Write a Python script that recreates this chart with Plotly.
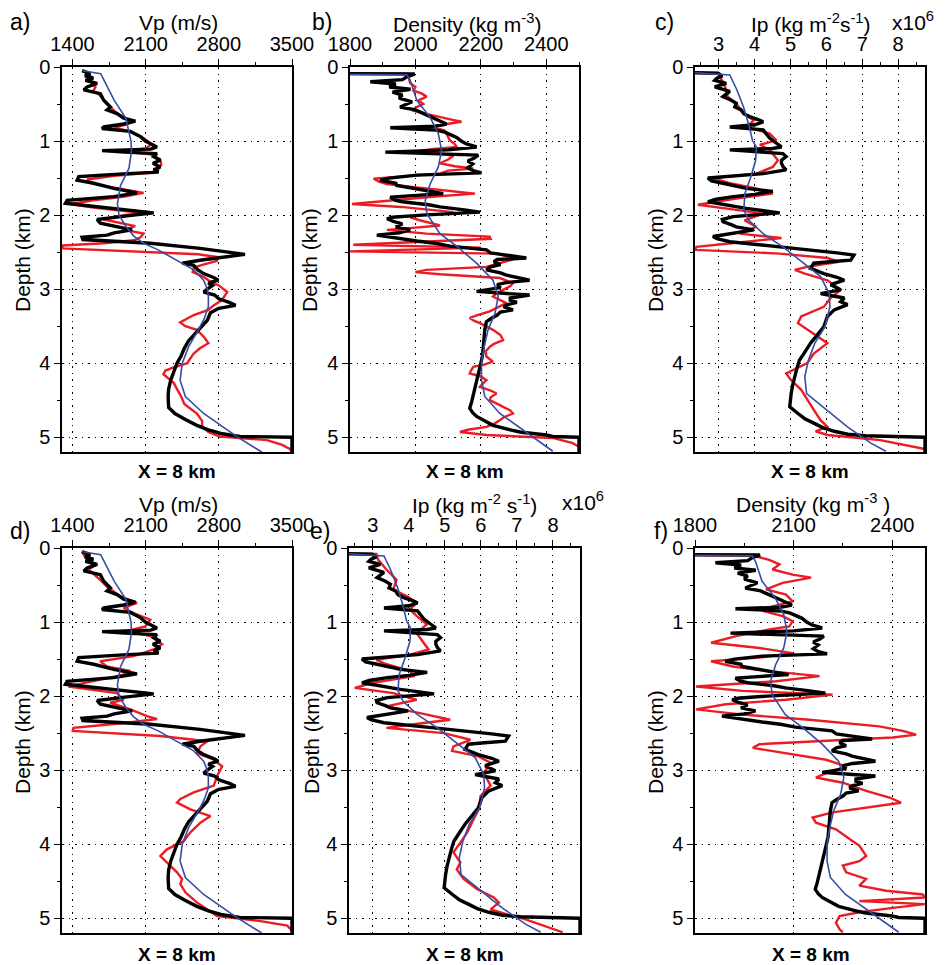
import plotly.graph_objects as go

W, H = 946, 965

# ---------------- DATA (depth km, value) ----------------
vp_black = [(0.05,1492),(0.09,1570),(0.12,1520),(0.15,1600),(0.18,1524),(0.22,1636),(0.27,1540),(0.31,1508),
            (0.36,1667),(0.45,1699),(0.54,1763),(0.58,1731),(0.63,1826),(0.69,1890),(0.73,2002),(0.77,1890),
            (0.81,1700),(0.83,1683),(0.87,1954),(0.94,2049),(1.0,2097),(1.08,2208),(1.11,2150),(1.13,1683),
            (1.15,1900),(1.17,2208),(1.21,2177),(1.26,2240),(1.3,2170),(1.35,2240),(1.39,2177),(1.42,2224),
            (1.44,1922),(1.48,1460),(1.53,1445),(1.57,1604),(1.64,1795),(1.7,2017),(1.75,1795),(1.8,1349),
            (1.84,1333),(1.89,1667),(1.93,1922),(1.97,2177),(2.01,1922),(2.06,1636),(2.11,1667),(2.16,1858),
            (2.2,1970),(2.24,1800),(2.27,1731),(2.3,1492),(2.33,1500),(2.38,2145),(2.45,2620),(2.53,3050),
            (2.57,2800),(2.61,2620),(2.65,2450),(2.68,2560),(2.74,2600),(2.79,2655),(2.85,2760),(2.88,2795),
            (2.92,2700),(2.95,2740),(3.0,2690),(3.04,2655),(3.08,2760),(3.13,2800),(3.18,2900),(3.22,2960),
            (3.26,2800),(3.32,2720),(3.42,2690),(3.5,2640),(3.6,2570),(3.7,2510),(3.8,2470),(3.9,2440),
            (4.0,2400),(4.12,2370),(4.23,2340),(4.35,2320),(4.45,2315),(4.6,2320),(4.68,2380),(4.76,2480),
            (4.84,2590),(4.9,2700),(4.95,2820),(4.99,3000),(5.0,3500),(5.2,3500)]

vp_blue = [(0.05,1495),(0.09,1670),(0.2,1710),(0.45,1800),(0.69,1910),(1.0,1960),(1.14,1965),(1.37,1940),
           (1.6,1860),(1.85,1830),(2.0,1845),(2.15,1910),(2.28,1985),(2.38,2080),(2.47,2220),(2.56,2330),
           (2.65,2450),(2.74,2560),(2.88,2655),(3.0,2690),(3.1,2700),(3.24,2700),(3.4,2660),(3.55,2605),
           (3.78,2510),(4.0,2450),(4.23,2430),(4.45,2480),(4.68,2655),(4.9,2880),(5.0,2980),(5.2,3210)]

vp_red_a = [(0.05,1495),(0.1,1560),(0.15,1590),(0.2,1570),(0.27,1620),(0.32,1600),(0.38,1660),(0.45,1700),
            (0.54,1760),(0.63,1830),(0.7,1920),(0.73,1990),(0.78,1900),(0.82,1800),(0.87,1950),(0.94,2060),
            (1.0,2120),(1.05,2150),(1.1,2100),(1.14,1860),(1.18,2150),(1.25,2240),(1.32,2250),(1.38,2220),
            (1.43,2150),(1.47,1800),(1.52,1540),(1.58,1600),(1.64,1850),(1.7,2080),(1.75,1900),(1.8,1600),
            (1.85,1380),(1.9,1600),(1.97,2050),(2.02,1800),(2.06,1700),(2.11,1850),(2.15,2000),(2.2,1900),
            (2.25,2080),(2.3,2050),(2.34,1990),(2.38,1700),(2.41,1310),(2.45,1300),(2.49,1900),(2.53,2600),
            (2.57,2800),(2.62,2780),(2.67,2650),(2.71,2560),(2.77,2550),(2.83,2650),(2.88,2700),(2.95,2800),
            (3.04,2880),(3.1,2850),(3.15,2830),(3.22,2750),(3.28,2700),(3.35,2560),(3.4,2500),(3.45,2430),
            (3.5,2480),(3.55,2590),(3.65,2660),(3.73,2700),(3.8,2620),(3.87,2560),(3.95,2520),(4.0,2500),
            (4.06,2360),(4.1,2290),(4.15,2270),(4.2,2310),(4.27,2370),(4.35,2400),(4.45,2440),(4.55,2470),
            (4.68,2590),(4.78,2640),(4.85,2640),(4.93,2700),(4.99,2810),(5.04,3260),(5.1,3400),(5.16,3480),
            (5.2,3500)]

vp_red_d = [(0.045,1490),(0.16,1537),(0.22,1633),(0.29,1553),(0.43,1665),(0.52,1729),(0.65,1857),(0.74,2017),
            (0.81,1889),(0.88,1985),(0.97,2145),(1.06,2097),(1.12,1921),(1.19,2145),(1.3,2257),(1.37,2177),
            (1.46,1985),(1.53,1665),(1.6,1729),(1.66,1953),(1.71,1889),(1.78,1665),(1.87,1362),(1.96,1825),
            (2.05,1889),(2.09,1761),(2.18,1953),(2.27,2113),(2.31,2209),(2.36,1921),(2.43,1410),(2.47,1403),
            (2.54,2241),(2.61,2688),(2.68,2624),(2.77,2592),(2.86,2752),(2.95,2832),(3.08,2784),(3.21,2752),
            (3.3,2560),(3.39,2432),(3.44,2400),(3.53,2528),(3.62,2720),(3.71,2624),(3.84,2528),(3.96,2464),
            (4.07,2304),(4.16,2241),(4.25,2304),(4.38,2400),(4.47,2448),(4.54,2432),(4.65,2480),(4.79,2592),
            (4.88,2688),(4.97,2784),(5.04,3199),(5.1,3455),(5.17,3500)]

rho_black = [(0.09,1800),(0.095,1998),(0.13,1975),(0.17,1960),(0.2,1862),(0.23,1940),(0.27,1920),(0.3,1985),
             (0.34,1930),(0.38,1960),(0.42,1950),(0.47,1990),(0.54,1953),(0.58,2000),(0.63,2025),(0.68,2050),
             (0.72,2075),(0.77,2095),(0.8,2060),(0.82,1923),(0.85,2060),(0.88,2090),(0.95,2126),(1.0,2140),
             (1.04,2156),(1.08,2187),(1.12,2100),(1.15,1908),(1.17,2050),(1.19,2192),(1.23,2180),(1.27,2160),
             (1.31,2175),(1.36,2160),(1.4,2176),(1.43,2202),(1.46,2004),(1.5,1920),(1.53,1892),(1.57,1940),
             (1.6,1943),(1.64,1990),(1.67,2034),(1.71,2085),(1.74,1980),(1.76,1923),(1.8,1940),(1.82,1960),
             (1.86,2040),(1.89,2075),(1.93,2150),(1.96,2197),(2.0,2020),(2.03,1930),(2.05,1913),(2.09,1935),
             (2.12,1960),(2.16,1940),(2.2,1984),(2.24,1950),(2.27,1882),(2.31,1940),(2.35,2004),(2.38,2060),
             (2.42,2106),(2.47,2217),(2.51,2230),(2.54,2278),(2.58,2339),(2.6,2250),(2.63,2240),(2.67,2260),
             (2.7,2230),(2.74,2217),(2.78,2260),(2.81,2278),(2.85,2320),(2.88,2349),(2.91,2280),(2.94,2250),
             (2.98,2260),(3.03,2187),(3.06,2280),(3.08,2349),(3.12,2290),(3.15,2290),(3.18,2310),(3.21,2280),
             (3.24,2270),(3.28,2298),(3.31,2260),(3.35,2250),(3.4,2230),(3.44,2217),(3.55,2212),(3.7,2210),
             (3.78,2207),(3.9,2205),(4.0,2200),(4.1,2195),(4.23,2187),(4.35,2180),(4.45,2176),(4.52,2172),
             (4.61,2166),(4.67,2175),(4.72,2187),(4.78,2210),(4.84,2237),(4.9,2290),(4.93,2319),(4.97,2400),
             (4.99,2420),(5.0,2500),(5.2,2500)]

rho_blue = [(0.1,1800),(0.105,1974),(0.18,1984),(0.45,2004),(0.68,2045),(0.9,2070),(1.13,2080),(1.35,2070),
            (1.58,2045),(1.8,2030),(1.98,2035),(2.25,2075),(2.42,2126),(2.65,2187),(2.88,2237),(3.1,2253),
            (3.33,2243),(3.55,2222),(3.78,2210),(4.0,2202),(4.23,2202),(4.45,2212),(4.68,2258),(4.9,2329),
            (5.19,2420)]

rho_red_b = [(0.09,1800),(0.095,1975),(0.15,1980),(0.22,1984),(0.27,2000),(0.32,1994),(0.36,2020),(0.4,2034),
             (0.45,2010),(0.5,2024),(0.55,2000),(0.59,1994),(0.64,2040),(0.68,2075),(0.71,2110),(0.74,2141),
             (0.78,2080),(0.81,2055),(0.86,2090),(0.9,2095),(0.95,2100),(0.99,2105),(1.04,2120),(1.08,2126),
             (1.11,2050),(1.13,2015),(1.16,2060),(1.2,2116),(1.25,2100),(1.3,2075),(1.34,2120),(1.37,2177),
             (1.4,2100),(1.44,2075),(1.48,1950),(1.51,1872),(1.55,1890),(1.58,1913),(1.62,1990),(1.67,2095),
             (1.71,2182),(1.75,2060),(1.78,1984),(1.82,1880),(1.85,1806),(1.89,1955),(1.93,2040),(1.96,2116),
             (2.0,2020),(2.03,1984),(2.07,2013),(2.11,2050),(2.14,2075),(2.17,2000),(2.2,1913),(2.25,2034),
             (2.29,2227),(2.32,2230),(2.36,2004),(2.4,1810),(2.44,2200),(2.47,1900),(2.49,1800),(2.52,2250),
             (2.56,2280),(2.6,2298),(2.65,2260),(2.7,2217),(2.74,2034),(2.77,2000),(2.8,2075),(2.85,2258),
             (2.92,2298),(2.96,2290),(3.01,2268),(3.05,2250),(3.1,2237),(3.15,2260),(3.19,2278),(3.25,2250),
             (3.3,2227),(3.35,2190),(3.39,2166),(3.43,2180),(3.46,2197),(3.55,2237),(3.62,2260),(3.69,2268),
             (3.74,2240),(3.78,2227),(3.84,2215),(3.91,2217),(3.98,2237),(4.02,2210),(4.05,2177),(4.1,2170),
             (4.14,2166),(4.18,2200),(4.23,2217),(4.28,2205),(4.32,2197),(4.37,2230),(4.41,2248),(4.46,2230),
             (4.5,2227),(4.55,2250),(4.59,2268),(4.64,2290),(4.68,2298),(4.73,2270),(4.77,2258),(4.82,2240),
             (4.86,2217),(4.9,2160),(4.93,2136),(4.97,2217),(5.01,2420),(5.08,2481),(5.13,2500)]

rho_red_f = [(0.1,1800),(0.103,1976),(0.16,2026),(0.22,2057),(0.29,2036),(0.36,2097),(0.4,2153),(0.47,2067),
             (0.56,2016),(0.63,2077),(0.72,2097),(0.79,2036),(0.85,2006),(0.92,2067),(0.99,2097),(1.06,2087),
             (1.1,2026),(1.19,1925),(1.28,1849),(1.35,1996),(1.42,2097),(1.48,1996),(1.53,1849),(1.6,1915),
             (1.66,2016),(1.73,2179),(1.8,2047),(1.87,1803),(1.93,1945),(1.98,2219),(2.05,2077),(2.11,1894),
             (2.18,1803),(2.25,1945),(2.32,2148),(2.41,2361),(2.47,2432),(2.52,2473),(2.56,2402),(2.61,2199),
             (2.65,1996),(2.7,1976),(2.77,2077),(2.86,2199),(2.95,2260),(3.04,2199),(3.1,2168),(3.17,2250),
             (3.28,2321),(3.37,2392),(3.44,2427),(3.51,2321),(3.57,2219),(3.64,2158),(3.71,2168),(3.8,2229),
             (3.89,2260),(3.96,2280),(4.02,2300),(4.09,2311),(4.16,2321),(4.23,2300),(4.29,2250),(4.38,2260),
             (4.47,2321),(4.56,2300),(4.63,2382),(4.68,2493),(4.72,2500),(4.77,2300),(4.81,2500),(4.86,2402),
             (4.92,2300),(4.97,2240),(5.06,2229),(5.15,2240),(5.19,2250)]

ip_black = [(0.077,2.34),(0.085,2.98),(0.12,3.1),(0.15,2.95),(0.18,2.89),(0.22,3.21),(0.27,2.89),(0.3,3.1),
            (0.33,3.31),(0.37,3.2),(0.4,3.12),(0.45,3.35),(0.49,3.49),(0.54,3.45),(0.58,3.63),(0.63,3.7),
            (0.67,3.86),(0.71,4.1),(0.74,4.24),(0.78,4.0),(0.81,3.31),(0.85,4.24),(0.9,4.33),(0.96,4.42),
            (1.03,4.61),(1.08,4.75),(1.1,4.5),(1.12,3.31),(1.15,4.2),(1.17,4.79),(1.21,4.88),(1.26,4.75),
            (1.3,4.75),(1.35,4.8),(1.39,4.88),(1.44,4.24),(1.5,2.70),(1.54,2.8),(1.57,3.12),(1.64,3.77),
            (1.68,4.51),(1.72,4.0),(1.75,3.4),(1.79,2.9),(1.82,2.70),(1.86,3.2),(1.91,3.77),(1.97,4.70),
            (2.02,3.4),(2.06,3.1),(2.09,3.12),(2.13,3.35),(2.16,3.49),(2.2,3.98),(2.25,3.3),(2.29,2.84),
            (2.32,2.95),(2.36,3.31),(2.43,4.70),(2.47,5.56),(2.51,6.3),(2.54,6.77),(2.61,6.68),(2.63,6.1),
            (2.65,5.65),(2.72,5.56),(2.79,5.93),(2.84,6.3),(2.88,6.50),(2.94,6.12),(3.01,6.40),(3.06,5.84),
            (3.12,6.50),(3.17,6.4),(3.21,6.59),(3.28,6.22),(3.37,6.03),(3.51,5.93),(3.62,5.75),(3.73,5.56),
            (3.85,5.4),(3.96,5.25),(4.07,5.18),(4.18,5.12),(4.3,5.06),(4.41,5.02),(4.59,4.98),(4.68,5.21),
            (4.75,5.4),(4.81,5.65),(4.87,5.9),(4.92,6.22),(4.96,6.6),(4.98,7.1),(5.0,8.75),(5.2,8.75)]

ip_blue = [(0.077,2.34),(0.108,3.31),(0.3,3.5),(0.55,3.7),(0.8,3.85),(0.99,3.94),(1.08,4.05),(1.26,4.03),
           (1.48,3.9),(1.71,3.73),(1.93,3.7),(2.07,3.84),(2.25,4.24),(2.43,4.79),(2.61,5.26),(2.83,5.84),
           (3.06,6.08),(3.24,6.1),(3.51,5.96),(3.73,5.68),(3.96,5.5),(4.18,5.4),(4.41,5.45),(4.63,6.0),
           (4.86,6.59),(5.08,7.24),(5.19,7.66)]

ip_red_c = [(0.077,2.34),(0.085,3.0),(0.15,3.05),(0.22,3.15),(0.3,3.2),(0.4,3.25),(0.5,3.5),(0.6,3.65),
            (0.68,3.85),(0.72,3.98),(0.81,3.77),(0.9,4.42),(0.99,4.61),(1.05,4.15),(1.12,4.42),(1.26,4.65),
            (1.35,4.51),(1.44,4.05),(1.5,2.84),(1.57,3.31),(1.64,4.05),(1.71,4.51),(1.77,3.58),(1.86,2.42),
            (1.93,3.49),(1.98,4.24),(2.07,3.72),(2.16,4.05),(2.25,3.58),(2.31,4.75),(2.36,3.77),(2.43,2.38),
            (2.47,2.34),(2.52,4.7),(2.58,6.03),(2.63,6.35),(2.7,5.47),(2.74,5.12),(2.79,5.40),(2.88,6.03),
            (3.01,6.40),(3.12,6.12),(3.24,5.93),(3.37,5.3),(3.46,5.21),(3.6,5.65),(3.73,6.03),(3.87,5.65),
            (4.0,5.47),(4.14,4.88),(4.23,5.02),(4.36,5.3),(4.5,5.47),(4.63,5.65),(4.77,5.84),(4.86,6.03),
            (4.92,5.7),(4.97,6.03),(5.04,7.5),(5.13,8.4),(5.16,8.75)]

ip_red_e = [(0.076,2.34),(0.08,3.10),(0.16,3.15),(0.29,3.38),(0.43,3.66),(0.56,3.57),(0.65,3.94),(0.74,4.22),
            (0.83,4.03),(0.92,4.22),(1.03,4.5),(1.15,4.22),(1.28,4.41),(1.37,4.55),(1.44,4.03),(1.51,3.10),
            (1.57,3.38),(1.66,4.03),(1.73,4.13),(1.82,3.01),(1.89,2.5),(1.96,3.57),(2.05,4.22),(2.14,3.38),
            (2.23,4.31),(2.32,5.15),(2.38,4.13),(2.43,3.38),(2.5,4.97),(2.59,5.71),(2.68,5.24),(2.74,5.20),
            (2.81,5.9),(2.9,6.27),(3.04,6.08),(3.21,6.27),(3.35,5.99),(3.53,5.94),(3.66,5.80),(3.84,5.62),
            (3.98,5.43),(4.11,5.24),(4.25,5.43),(4.34,5.33),(4.47,5.52),(4.61,5.9),(4.72,6.36),(4.79,6.5),
            (4.88,6.27),(4.95,6.73),(5.01,7.2),(5.1,7.76),(5.19,8.27)]

# ---------------- LAYOUT HELPERS ----------------
def px_x(p):
    return p / W

def px_y(p):
    return 1 - p / H

FONT = "Liberation Sans, Arial, Helvetica, sans-serif"
RED = "rgb(236,28,36)"
BLUE = "rgb(52,78,165)"
TICK_SIZE = 20
TITLE_SIZE = 21

panels = [
    dict(red=vp_red_a, black=vp_black, blue=vp_blue, rng=[1300, 3500], tick0=1400, dtick=700, mtick=350,
         box=(62, 292, 67, 452)),
    dict(red=rho_red_b, black=rho_black, blue=rho_blue, rng=[1800, 2500], tick0=1800, dtick=200, mtick=100,
         box=(350, 579, 67, 452)),
    dict(red=ip_red_c, black=ip_black, blue=ip_blue, rng=[2.34, 8.75], tick0=3, dtick=1, mtick=0.5,
         box=(695, 925, 67, 452)),
    dict(red=vp_red_d, black=vp_black, blue=vp_blue, rng=[1300, 3500], tick0=1400, dtick=700, mtick=350,
         box=(62, 292, 548, 933)),
    dict(red=ip_red_e, black=ip_black, blue=ip_blue, rng=[2.34, 8.75], tick0=3, dtick=1, mtick=0.5,
         box=(349, 580, 548, 933)),
    dict(red=rho_red_f, black=rho_black, blue=rho_blue, rng=[1800, 2500], tick0=1800, dtick=300, mtick=150,
         box=(695, 925, 548, 933)),
]

fig = go.Figure()
layout = dict(width=W, height=H, margin=dict(l=0, r=0, t=0, b=0, pad=0, autoexpand=False),
              paper_bgcolor="white", plot_bgcolor="white", showlegend=False,
              font=dict(family=FONT, size=TICK_SIZE, color="black"))

for i, p in enumerate(panels, start=1):
    xa = "x" if i == 1 else f"x{i}"
    ya = "y" if i == 1 else f"y{i}"
    for key, color, width in (("red", RED, 2.4), ("black", "black", 3.4), ("blue", BLUE, 1.6)):
        d, v = zip(*p[key])
        fig.add_trace(go.Scatter(x=list(v), y=list(d), mode="lines", xaxis=xa, yaxis=ya,
                                 line=dict(color=color, width=width), hoverinfo="skip"))
    l, r, t, b = p["box"]
    axis_common = dict(showline=True, mirror=True, linecolor="black", linewidth=1.5, zeroline=False,
                       ticks="outside", ticklen=6, tickwidth=1.2, tickcolor="black",
                       showgrid=True, gridcolor="black", gridwidth=1, griddash="1.5px,5px",
                       automargin=False,
                       tickfont=dict(family=FONT, size=TICK_SIZE, color="black"))
    layout[f"xaxis{i if i > 1 else ''}"] = dict(
        domain=[px_x(l), px_x(r)], anchor=ya, side="top", range=p["rng"], tick0=p["tick0"],
        dtick=p["dtick"], minor=dict(tick0=p["tick0"], dtick=p["mtick"], ticks="outside", ticklen=3,
                                     tickcolor="black", showgrid=False),
        **axis_common)
    layout[f"yaxis{i if i > 1 else ''}"] = dict(
        domain=[px_y(b), px_y(t)], anchor=xa, range=[5.2, 0], tick0=0, dtick=1,
        minor=dict(tick0=0, dtick=0.5, ticks="outside", ticklen=3, tickcolor="black", showgrid=False),
        **axis_common)

ann = []
def add_text(txt, x, y, size=19, bold=False, angle=0, xanchor="center"):
    if bold:
        txt = f"<b>{txt}</b>"
    ann.append(dict(text=txt, x=px_x(x), y=px_y(y), xref="paper", yref="paper", showarrow=False,
                    xanchor=xanchor, yanchor="middle", textangle=angle,
                    font=dict(family=FONT, size=size, color="black")))

# panel letters
for txt, x, y in (("a)", 8, 22), ("b)", 310, 22), ("c)", 653, 22),
                  ("d)", 8, 531), ("e)", 308, 531), ("f)", 652, 531)):
    add_text(txt, x, y, size=23, xanchor="left")

# axis titles
add_text("Vp (m/s)", 178, 23, size=TITLE_SIZE)
add_text("Density (kg m<sup>-3</sup>)", 467, 23, size=TITLE_SIZE)
add_text("Ip (kg m<sup>-2</sup>s<sup>-1</sup>)", 810, 23, size=TITLE_SIZE)
add_text("x10<sup>6</sup>", 913, 21, size=TITLE_SIZE)
add_text("Vp (m/s)", 178, 504, size=TITLE_SIZE)
add_text("Ip (kg m<sup>-2</sup> s<sup>-1</sup>)", 474, 504, size=TITLE_SIZE)
add_text("x10<sup>6</sup>", 583, 501, size=TITLE_SIZE)
add_text("Density (kg m<sup>-3</sup> )", 813, 503, size=TITLE_SIZE)

# depth labels
for x, y in ((22, 260), (309, 260), (655, 260), (22, 742), (311, 742), (655, 742)):
    add_text("Depth (km)", x, y, size=TITLE_SIZE, angle=-90)

# bottom captions
for x, y in ((177, 471), (465, 471), (810, 471), (177, 954), (465, 954), (811, 954)):
    add_text("X = 8 km", x, y, size=19, bold=True)

layout["annotations"] = ann
fig.update_layout(**layout)
fig.write_html("out.html", config={"displayModeBar": False},
               post_script="document.body.style.margin='0px';document.body.style.overflow='hidden';")
